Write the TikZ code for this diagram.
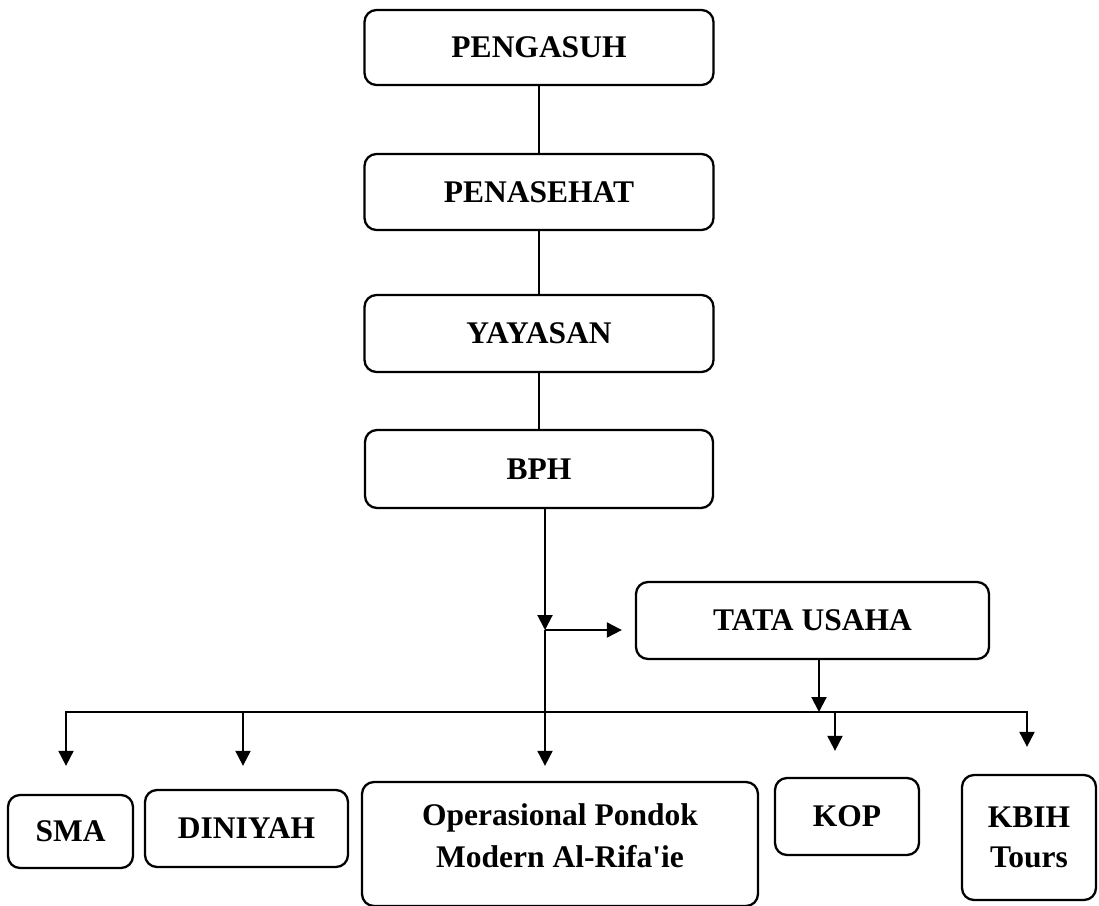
\documentclass[tikz,border=0pt]{standalone}
\usepackage{fontspec}
\newfontfamily\lblfont{Liberation Serif}
\usetikzlibrary{arrows.meta}
\begin{document}
\begin{tikzpicture}[x=1pt,y=-1pt,
  box/.style={draw, line width=2.3pt, rounded corners=12pt, align=center, inner sep=0pt,
    font=\lblfont\bfseries\fontsize{31.5}{40}\selectfont},
  txt/.style={align=center, inner sep=0pt, font=\lblfont\bfseries\fontsize{31.5}{42}\selectfont},
  conn/.style={line width=2pt},
  arr/.style={conn, -{Triangle[width=15pt,length=15pt]}}]
\useasboundingbox[fill=white] (0,0) rectangle (1099,905);

% top chain
\node[box, minimum width=349pt, minimum height=75pt] (peng) at (539,47.5) {PENGASUH};
\node[box, minimum width=349pt, minimum height=76pt] (pen)  at (539,192) {PENASEHAT};
\node[box, minimum width=349pt, minimum height=77pt] (yay)  at (539,333.5) {YAYASAN};
\node[box, minimum width=348pt, minimum height=78pt] (bph)  at (539,469) {BPH};
\node[box, minimum width=353pt, minimum height=77pt] (tata) at (812.5,620.5) {TATA USAHA};

% bottom row
\node[box, minimum width=125pt, minimum height=73pt] (sma) at (70.5,831.5) {SMA};
\node[box, minimum width=203pt, minimum height=77pt] (din) at (246.5,828.5) {DINIYAH};
\node[box, minimum width=396pt, minimum height=124pt] (op) at (560,844) {};
\node[txt] (optext) at (560,836) {Operasional Pondok\\Modern Al-Rifa'ie};
\node[box, minimum width=144pt, minimum height=77pt] (kop) at (847,816.5) {KOP};
\node[box, minimum width=134pt, minimum height=125pt] (kbih) at (1029,837.5) {KBIH\\Tours};

% connectors of the chain
\draw[conn] (peng) -- (pen);
\draw[conn] (pen) -- (yay);
\draw[conn] (yay) -- (bph);

\coordinate (j) at (545,630);
\draw[arr] (bph.south -| j) -- (j);
\draw[arr, shorten >=13pt] (j) -- (tata.west |- j);
\draw[arr, shorten >=15pt] (j) -- (op.north -| j);

% distribution line
\coordinate (hl) at (66,712);
\coordinate (hr) at (1027,712);
\coordinate (hm) at (600,712);
\coordinate (tu) at (819,712);
\coordinate (dd) at (243,712);
\coordinate (kk) at (835,712);
\draw[arr] (tata.south -| tu) -- (tu);
\draw[arr, shorten >=28pt] (hm) -- (hl) -- (sma.north -| hl);
\draw[arr, shorten >=27pt] (hm) -- (hr) -- (kbih.north -| hr);
\draw[arr, shorten >=23pt] (dd) -- (din.north -| dd);
\draw[arr, shorten >=26pt] (kk) -- (kop.north -| kk);
\end{tikzpicture}
\end{document}
